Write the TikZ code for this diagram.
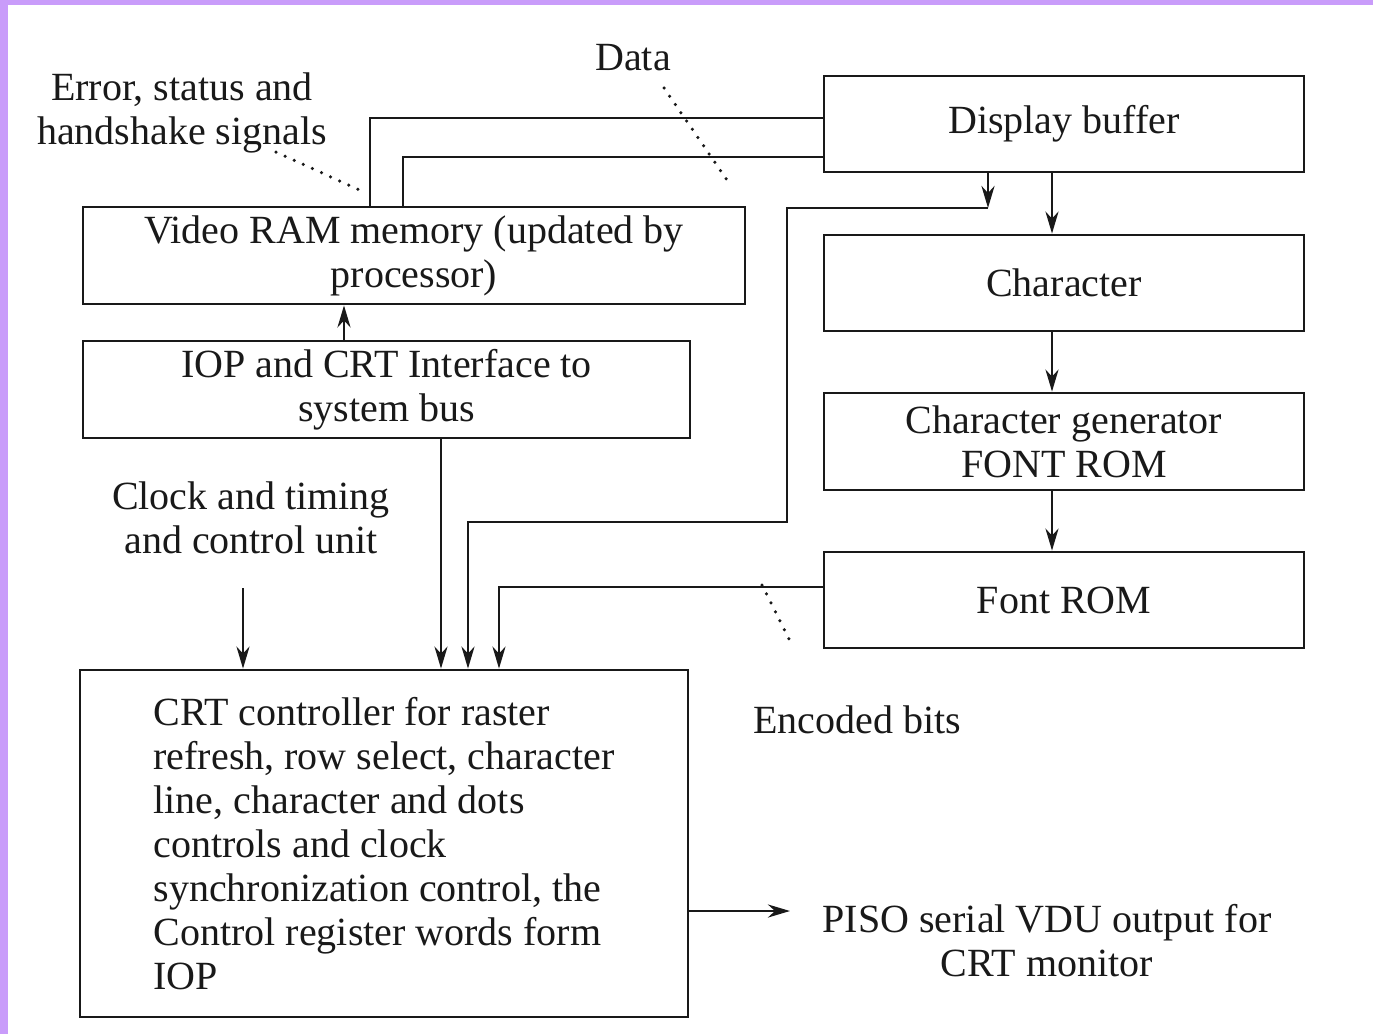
\documentclass[tikz,border=0pt]{standalone}
\usepackage{fontspec}
\setmainfont{Liberation Serif}
\usetikzlibrary{arrows.meta}

\definecolor{frame}{RGB}{201,156,250}
\definecolor{ink}{RGB}{25,25,25}

\begin{document}
\begin{tikzpicture}[x=1pt, y=-1pt,
    every node/.style={font=\fontsize{40}{44}\selectfont, text=ink},
    box/.style={draw=ink, line width=2.8pt, minimum width=#1, align=center, inner sep=0pt},
    arr/.style={draw=ink, line width=2.8pt, -{Stealth[length=22pt, width=13pt, inset=7pt]}},
    wire/.style={draw=ink, line width=2.8pt},
    leader/.style={draw=ink, line width=3.5pt, line cap=round, dash pattern=on 0pt off 10pt}]
    \useasboundingbox (0,0) rectangle (1373,1034);
    \fill[white] (0,0) rectangle (1373,1034);
    \fill[frame] (0,0) rectangle (1373,5);
    \fill[frame] (0,0) rectangle (8,1034);

    % right column
    \node[box=480pt, minimum height=96pt] (disp) at (1064,124) {Display buffer};
    \node[box=480pt, minimum height=96pt] (char) at (1064,283) {Character};
    \node[box=480pt, minimum height=97pt] (cgrom) at (1064,441.5) {Character generator\\FONT ROM};
    \node[box=480pt, minimum height=96pt] (font) at (1064,600) {Font ROM};

    % left column
    \node[box=662pt, minimum height=97pt] (vram) at (414,255.5) {Video RAM memory (updated by\\processor)};
    \node[box=607pt, minimum height=97pt] (iop) at (386.5,389.5) {IOP and CRT Interface to\\system bus};
    \node[box=608pt, minimum height=347pt, align=left] (crt) at (384,843.5)
        {CRT controller for raster\\refresh, row select, character\\line, character and dots\\controls and clock\\synchronization control, the\\Control register words form\\IOP};

    % labels
    \node[align=center] (err) at (182,113) {Error, status and\\handshake signals};
    \node (data) at (633,58) {Data};
    \node[align=center] (clock) at (251,518) {Clock and timing\\and control unit};
    \node (enc) at (857,720) {Encoded bits};
    \node[align=center] (piso) at (1047,941) {PISO serial VDU output for\\CRT monitor};

    \coordinate (clk) at (243,588);
    \coordinate (out) at (790,911);
    \coordinate (bendA) at (988,208);
    \coordinate (bendB) at (787,522);

    % connectors
    \draw[wire] ([yshift=6pt]disp.west) -| ([xshift=-44pt]vram.north);
    \draw[wire] ([yshift=-33pt]disp.west) -| ([xshift=-11pt]vram.north);
    \draw[arr] ([xshift=-12pt]disp.south) -- ([xshift=-12pt]char.north);
    \draw[arr] ([xshift=-12pt]char.south) -- ([xshift=-12pt]cgrom.north);
    \draw[arr] ([xshift=-12pt]cgrom.south) -- ([xshift=-12pt]font.north);
    \draw[arr] (disp.south -| bendA) -- (bendA);
    \draw[arr] (bendA) -| (bendB) -| ([xshift=84pt]crt.north);
    \draw[arr] ([yshift=13pt]font.west) -| ([xshift=115pt]crt.north);
    \draw[arr] ([xshift=54.5pt]iop.south) -- ([xshift=54.5pt]iop.south |- crt.north);
    \draw[arr] ([xshift=-42.5pt]iop.north) -- ([xshift=-42.5pt]iop.north |- vram.south);
    \draw[arr] (clk) -- (clk |- crt.north);
    \draw[arr] (crt.east |- out) -- (out);

    % dotted leaders
    \draw[leader] (276,152) -- (366,193);
    \draw[leader] (664,88) -- (727,180);
    \draw[leader] (762,585) -- (792,645);
\end{tikzpicture}
\end{document}
